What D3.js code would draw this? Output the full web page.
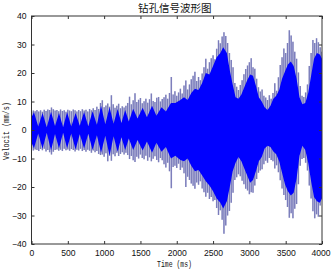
<!DOCTYPE html>
<html><head><meta charset="utf-8">
<script src="https://cdn.jsdelivr.net/npm/d3@7"></script>
<style>
html,body{margin:0;padding:0;background:#fff;}
svg{display:block;}
</style></head>
<body>
<svg id="chart" width="331" height="269"></svg>
<script>
// ---------- data ----------
const title = "钻孔信号波形图";
const xLabel = "Time (ms)";
const yLabel = "Velocit (mm/s)";
const xTicks = [0,500,1000,1500,2000,2500,3000,3500,4000];
const yTicks = [-40,-30,-20,-10,0,10,20,30,40];

// outer (peak) envelope, sampled every 25 ms from 0 to 4000
const peakStep = 25;
const peakMax = [
 6.3,6.8,6.6,7.0,6.5,6.9,6.4,7.1,6.7,7.2,7.0,7.9,7.3,6.8,7.0,6.6,7.2,6.7,6.9,6.4,7.1,6.8,6.6,7.2,6.9,6.5,7.0,6.6,7.3,6.8,7.1,6.5,7.4,6.9,7.6,7.0,8.2,7.4,9.5,
 10.4,8.0,8.6,9.3,8.2,12.2,9.0,7.8,8.5,9.2,7.6,8.3,7.9,8.5,
 9.5,11.7,9.0,10.4,12.9,9.8,10.6,11.2,9.4,10.1,11.0,9.6,10.8,12.8,10.2,9.8,11.3,11.6,10.0,10.9,11.5,12.4,11.0,13.0,18.6,12.5,
 13.6,12.0,13.2,14.5,12.8,15.6,17.4,14.2,16.0,17.8,19.0,20.4,17.2,18.6,17.5,19.8,22.0,25.0,21.5,23.8,25.2,26.2,24.8,28.5,31.5,30.4,32.8,34.3,
 33.0,30.5,27.0,24.6,22.0,16.5,15.2,14.0,15.8,17.5,19.6,21.4,22.6,23.8,25.2,22.0,21.5,18.0,15.0,13.5,14.2,12.0,11.4,10.5,12.2,11.0,
 13.0,16.4,13.8,18.5,22.8,25.5,28.6,27.0,30.5,35.0,33.2,31.0,27.5,25.0,20.2,15.4,12.0,11.6,13.2,16.0,22.5,27.0,31.6,30.5,32.2,30.8,29.0,27.5
];
const peakMin = [
 -6.5,-7.2,-6.8,-7.0,-7.4,-6.7,-7.1,-6.6,-7.5,-7.0,-7.8,-8.6,-7.6,-7.0,-6.8,-7.3,-6.9,-7.4,-6.6,-7.1,-6.8,-7.3,-6.7,-7.0,-7.5,-6.9,-7.2,-6.6,-7.4,-7.0,-7.6,-6.9,-7.3,-8.0,-7.2,-7.8,-7.4,-8.4,-8.8,
 -8.6,-9.4,-8.2,-11.0,-9.0,-10.8,-8.5,-9.2,-8.0,-9.1,-8.4,-7.8,-8.6,-8.0,
 -8.8,-10.2,-9.1,-10.6,-11.2,-9.4,-10.0,-8.6,-9.8,-10.3,-9.0,-10.8,-9.6,-11.0,-10.1,-9.2,-10.5,-11.3,-9.8,-10.6,-12.0,-13.2,-11.5,-14.5,-20.4,-13.0,
 -12.5,-13.3,-11.8,-14.0,-13.2,-15.2,-20.0,-16.4,-17.5,-18.8,-19.6,-20.6,-18.4,-19.2,-18.0,-20.5,-21.8,-23.4,-22.0,-24.2,-23.5,-25.0,-24.6,-27.4,-29.8,-28.2,-31.5,-36.4,
 -33.5,-30.0,-28.4,-25.5,-22.0,-17.5,-16.6,-15.5,-16.2,-17.8,-19.0,-20.6,-21.2,-22.5,-21.8,-22.0,-19.5,-17.2,-15.0,-14.2,-13.8,-12.0,-10.8,-11.5,-9.8,-10.5,
 -11.0,-13.5,-12.4,-14.8,-17.6,-20.5,-22.8,-24.6,-27.0,-30.8,-29.2,-31.0,-27.6,-26.0,-19.0,-12.5,-10.2,-9.8,-11.5,-14.2,-19.5,-24.0,-28.5,-31.0,-29.6,-30.4,-26.5,-23.5
];

// dense core envelope vertices (ms, upper, lower)
const coreT = [0,34,93,152,210,269,324,379,435,490,548,607,665,724,782,841,900,958,1016,1075,1130,1186,1238,1290,
  1340,1400,1460,1530,1590,1660,1720,1790,1850,1920,1980,2050,2100,2150,2200,2250,2300,2350,2400,2450,2500,2550,2600,2640,
  2690,2730,2770,2810,2850,2890,2930,2970,3010,3050,3090,3130,3170,3210,3250,3290,3330,3370,3410,3450,3490,3530,3570,3610,
  3650,3690,3730,3770,3810,3850,3890,3930,3970,4000];
const coreTop = [4.5,6.2,1.2,6.0,1.0,6.4,1.4,6.0,1.0,6.2,1.2,6.0,1.5,6.3,1.3,6.6,1.8,8.5,2.0,8.0,2.2,7.4,2.5,7.0,
  3.0,7.5,4.0,7.8,4.5,8.5,5.0,8.0,6.5,9.5,9.5,10.5,11.5,10.5,13.0,14.5,14.0,16.5,20.0,19.5,22.5,25.5,27.0,29.0,
  27.0,21.0,16.0,11.5,11.0,12.5,15.0,17.5,19.5,19.0,15.5,11.5,10.0,8.0,7.0,8.5,11.0,12.0,14.0,18.0,20.5,23.0,24.0,22.5,
  18.0,11.5,9.0,9.5,13.0,19.0,25.0,27.0,26.5,25.0];
const coreBot = [-4.5,-6.4,-1.2,-6.6,-1.0,-7.2,-1.4,-6.5,-1.0,-6.4,-1.2,-6.8,-1.5,-6.5,-1.3,-7.0,-1.8,-8.0,-2.0,-9.0,-2.2,-7.6,-2.5,-7.0,
  -3.0,-7.0,-3.5,-7.2,-4.0,-8.0,-4.5,-7.6,-6.0,-10.0,-9.0,-10.5,-11.0,-10.0,-12.5,-14.5,-14.0,-16.0,-18.0,-19.5,-21.5,-24.0,-25.5,-27.5,
  -25.0,-20.0,-14.5,-11.5,-9.5,-11.0,-13.5,-16.0,-18.5,-17.5,-14.5,-11.0,-9.5,-6.5,-5.5,-6.0,-7.5,-8.5,-11.0,-15.0,-19.0,-21.5,-23.0,-22.0,
  -17.0,-9.0,-5.5,-7.0,-11.5,-18.0,-23.5,-25.0,-25.5,-24.0];

// ---------- chart ----------
const svg = d3.select("#chart");
const mL = 31.5, mR = 322, mT = 16, mB = 244;
const x = d3.scaleLinear().domain([0,4000]).range([mL,mR]);
const y = d3.scaleLinear().domain([-40,40]).range([mB,mT]);

svg.append("defs").append("clipPath").attr("id","clip")
  .append("rect").attr("x",mL).attr("y",mT).attr("width",mR-mL).attr("height",mB-mT);

const g = svg.append("g").attr("clip-path","url(#clip)");

const peaks = peakMax.map((v,i)=>({t:i*peakStep, hi:v, lo:peakMin[i]}));
const barW = x(peakStep) - x(0);

// spikes: one vertical stroke per sample
g.selectAll("line.spk").data(peaks).join("line").attr("class","spk")
  .attr("x1",d=>x(d.t)).attr("x2",d=>x(d.t))
  .attr("y1",d=>y(d.hi)).attr("y2",d=>y(d.lo))
  .attr("stroke","#8e90c4").attr("stroke-width",barW*0.85);
g.selectAll("line.spk2").data(peaks).join("line").attr("class","spk2")
  .attr("x1",d=>x(d.t)).attr("x2",d=>x(d.t))
  .attr("y1",d=>y(d.hi)).attr("y2",d=>y(d.lo))
  .attr("stroke","#5557aa").attr("stroke-width",0.6).attr("stroke-opacity",0.6);

const core = coreT.map((t,i)=>({t, hi:coreTop[i], lo:coreBot[i]}));
const coreArea = d3.area().x(d=>x(d.t)).y0(d=>y(d.lo)).y1(d=>y(d.hi)).curve(d3.curveLinear);
g.append("path").datum(core).attr("d",coreArea).attr("fill","#0000ff");

// axes frame
const axisColor = "#333";
svg.append("rect").attr("x",mL).attr("y",mT).attr("width",mR-mL).attr("height",mB-mT)
  .attr("fill","none").attr("stroke",axisColor).attr("stroke-width",1);

const axB = d3.axisBottom(x).tickValues(xTicks).tickSizeInner(-3).tickSizeOuter(0).tickPadding(6).tickFormat(d3.format("d"));
const axT = d3.axisTop(x).tickValues(xTicks).tickSizeInner(-3).tickSizeOuter(0).tickFormat("");
const axL = d3.axisLeft(y).tickValues(yTicks).tickSizeInner(-3).tickSizeOuter(0).tickPadding(5).tickFormat(d3.format("d"));
const axR = d3.axisRight(y).tickValues(yTicks).tickSizeInner(-3).tickSizeOuter(0).tickFormat("");

function style(sel){
  sel.select(".domain").remove();
  sel.selectAll("line").attr("stroke",axisColor);
  sel.selectAll("text").attr("fill","#111").style("font-family","'Liberation Sans',Arial,sans-serif").style("font-size","8.6px");
}
const gB = svg.append("g").attr("transform",`translate(0,${mB})`).call(axB).call(style);
gB.selectAll("text").filter(d=>d===4000).attr("dx",-1.5);
svg.append("g").attr("transform",`translate(0,${mT})`).call(axT).call(style);
svg.append("g").attr("transform",`translate(${mL},0)`).call(axL).call(style);
svg.append("g").attr("transform",`translate(${mR},0)`).call(axR).call(style);

svg.append("text").attr("x",(mL+mR)/2 - 2).attr("y",11.5)
  .attr("text-anchor","middle").style("font-family","'Noto Sans CJK SC',sans-serif").style("font-size","10.5px")
  .attr("fill","#111").text(title);

svg.append("text").attr("x",174.5).attr("y",266.5).attr("text-anchor","middle")
  .style("font-family","'Liberation Mono',monospace").style("font-size","9px")
  .attr("textLength",35).attr("lengthAdjust","spacingAndGlyphs").attr("fill","#111").text(xLabel);

svg.append("text").attr("transform","translate(8.5,131) rotate(-90)").attr("text-anchor","middle")
  .style("font-family","'Liberation Mono',monospace").style("font-size","9px")
  .attr("textLength",58).attr("lengthAdjust","spacingAndGlyphs").attr("fill","#111").text(yLabel);
</script>
</body></html>
